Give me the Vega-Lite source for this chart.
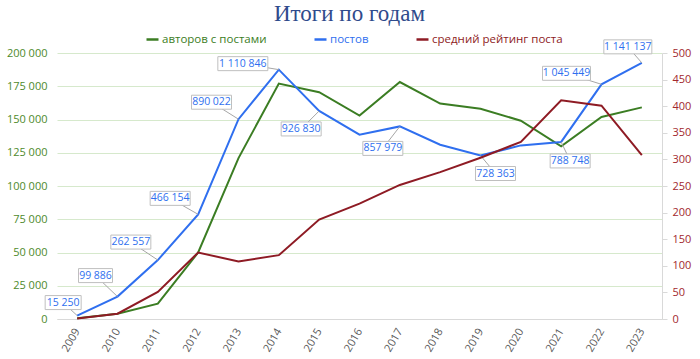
{
  "$schema": "https://vega.github.io/schema/vega-lite/v6.json",
  "width": 605,
  "height": 266,
  "autosize": {"type": "none"},
  "padding": {"left": 57, "top": 53, "right": 38, "bottom": 40},
  "config": {
    "font": "Open Sans",
    "view": {"stroke": null},
    "locale": {"number": {"decimal": ",", "thousands": " ", "grouping": [3], "currency": ["", ""]}}
  },
  "title": {
    "text": "Итоги по годам",
    "font": "Liberation Serif",
    "fontSize": 23,
    "fontWeight": "normal",
    "color": "#2F4B8C",
    "anchor": "middle",
    "dx": -10,
    "offset": 6
  },
  "data": {
    "values": [
      {"year": 2009, "authors": 500, "posts": 15250, "rating": 1},
      {"year": 2010, "authors": 4000, "posts": 99886, "rating": 10},
      {"year": 2011, "authors": 11500, "posts": 262557, "rating": 51},
      {"year": 2012, "authors": 50000, "posts": 466154, "rating": 125},
      {"year": 2013, "authors": 121000, "posts": 890022, "rating": 108},
      {"year": 2014, "authors": 177000, "posts": 1110846, "rating": 120},
      {"year": 2015, "authors": 170500, "posts": 926830, "rating": 187},
      {"year": 2016, "authors": 153000, "posts": 821000, "rating": 217},
      {"year": 2017, "authors": 178200, "posts": 857979, "rating": 252},
      {"year": 2018, "authors": 162000, "posts": 776500, "rating": 276},
      {"year": 2019, "authors": 158100, "posts": 728363, "rating": 303},
      {"year": 2020, "authors": 149100, "posts": 773400, "rating": 333},
      {"year": 2021, "authors": 129800, "posts": 788748, "rating": 411},
      {"year": 2022, "authors": 151900, "posts": 1045449, "rating": 401},
      {"year": 2023, "authors": 159100, "posts": 1141137, "rating": 308}
    ]
  },
  "encoding": {
    "x": {
      "field": "year",
      "type": "ordinal",
      "scale": {"type": "point", "padding": 0.5},
      "axis": {
        "title": null,
        "labelAngle": -60,
        "labelColor": "#595959",
        "labelFontSize": 11,
        "ticks": false,
        "domainColor": "#d9d9d9",
        "labelPadding": 10,
        "grid": false
      }
    }
  },
  "layer": [
    {
      "mark": {"type": "line", "strokeWidth": 2},
      "encoding": {
        "y": {
          "field": "authors",
          "type": "quantitative",
          "scale": {"domain": [0, 200000], "nice": false},
          "axis": {
            "title": null,
            "orient": "left",
            "values": [0, 25000, 50000, 75000, 100000, 125000, 150000, 175000, 200000],
            "format": ",.0f",
            "labelColor": "#4E8A2C",
            "labelFontSize": 11,
            "ticks": false,
            "domain": false,
            "labelPadding": 10,
            "gridColor": "#d6e9cc",
            "gridWidth": 1
          }
        },
        "color": {
          "datum": "авторов с постами",
          "scale": {
            "domain": ["авторов с постами", "постов", "средний рейтинг поста"],
            "range": ["#3B7D23", "#2F6FEF", "#8E1B24"]
          },
          "legend": {
            "orient": "none",
            "legendX": 88,
            "legendY": -21,
            "direction": "horizontal",
            "title": null,
            "symbolType": "stroke",
            "symbolSize": 144,
            "symbolStrokeWidth": 2.5,
            "labelFontSize": 11.5,
            "labelOffset": 2,
            "columnPadding": 42,
            "encode": {"labels": {"update": {"fill": {"scale": "color", "field": "value"}}}}
          }
        }
      }
    },
    {
      "encoding": {
        "y": {
          "field": "posts",
          "type": "quantitative",
          "scale": {"domain": [0, 1185000], "nice": false},
          "axis": null
        }
      },
      "layer": [
        {
          "mark": {"type": "line", "strokeWidth": 2},
          "encoding": {
            "color": {
              "datum": "постов",
              "scale": {
                "domain": ["авторов с постами", "постов", "средний рейтинг поста"],
                "range": ["#3B7D23", "#2F6FEF", "#8E1B24"]
              }
            }
          }
        },
        {
          "transform": [{"filter": "datum.year == 2009"}],
          "layer": [
            {"mark": {"type": "rule", "color": "#a6a6a6", "x2Offset": -14, "y2Offset": -13}, "encoding": {"x2": {"field": "year"}, "y2": {"field": "posts"}}},
            {"mark": {"type": "rect", "fill": "white", "stroke": "#bfbfbf", "xOffset": -32, "x2Offset": 4, "yOffset": -20, "y2Offset": -6}, "encoding": {"x2": {"field": "year"}, "y2": {"field": "posts"}}},
            {"mark": {"type": "text", "dx": -14, "dy": -13, "color": "#2F6FEF", "fontSize": 10.5, "align": "center", "baseline": "middle"}, "encoding": {"text": {"field": "posts", "type": "quantitative", "format": ",.0f"}}}
          ]
        },
        {
          "transform": [{"filter": "datum.year == 2010"}],
          "layer": [
            {"mark": {"type": "rule", "color": "#a6a6a6", "x2Offset": -22, "y2Offset": -21}, "encoding": {"x2": {"field": "year"}, "y2": {"field": "posts"}}},
            {"mark": {"type": "rect", "fill": "white", "stroke": "#bfbfbf", "xOffset": -39, "x2Offset": -5, "yOffset": -28, "y2Offset": -14}, "encoding": {"x2": {"field": "year"}, "y2": {"field": "posts"}}},
            {"mark": {"type": "text", "dx": -22, "dy": -21, "color": "#2F6FEF", "fontSize": 10.5, "align": "center", "baseline": "middle"}, "encoding": {"text": {"field": "posts", "type": "quantitative", "format": ",.0f"}}}
          ]
        },
        {
          "transform": [{"filter": "datum.year == 2011"}],
          "layer": [
            {"mark": {"type": "rule", "color": "#a6a6a6", "x2Offset": -27, "y2Offset": -18}, "encoding": {"x2": {"field": "year"}, "y2": {"field": "posts"}}},
            {"mark": {"type": "rect", "fill": "white", "stroke": "#bfbfbf", "xOffset": -47, "x2Offset": -7, "yOffset": -25, "y2Offset": -11}, "encoding": {"x2": {"field": "year"}, "y2": {"field": "posts"}}},
            {"mark": {"type": "text", "dx": -27, "dy": -18, "color": "#2F6FEF", "fontSize": 10.5, "align": "center", "baseline": "middle"}, "encoding": {"text": {"field": "posts", "type": "quantitative", "format": ",.0f"}}}
          ]
        },
        {
          "transform": [{"filter": "datum.year == 2012"}],
          "layer": [
            {"mark": {"type": "rule", "color": "#a6a6a6", "x2Offset": -28, "y2Offset": -16}, "encoding": {"x2": {"field": "year"}, "y2": {"field": "posts"}}},
            {"mark": {"type": "rect", "fill": "white", "stroke": "#bfbfbf", "xOffset": -48, "x2Offset": -8, "yOffset": -23, "y2Offset": -9}, "encoding": {"x2": {"field": "year"}, "y2": {"field": "posts"}}},
            {"mark": {"type": "text", "dx": -28, "dy": -16, "color": "#2F6FEF", "fontSize": 10.5, "align": "center", "baseline": "middle"}, "encoding": {"text": {"field": "posts", "type": "quantitative", "format": ",.0f"}}}
          ]
        },
        {
          "transform": [{"filter": "datum.year == 2013"}],
          "layer": [
            {"mark": {"type": "rule", "color": "#a6a6a6", "x2Offset": -27, "y2Offset": -17}, "encoding": {"x2": {"field": "year"}, "y2": {"field": "posts"}}},
            {"mark": {"type": "rect", "fill": "white", "stroke": "#bfbfbf", "xOffset": -47, "x2Offset": -7, "yOffset": -24, "y2Offset": -10}, "encoding": {"x2": {"field": "year"}, "y2": {"field": "posts"}}},
            {"mark": {"type": "text", "dx": -27, "dy": -17, "color": "#2F6FEF", "fontSize": 10.5, "align": "center", "baseline": "middle"}, "encoding": {"text": {"field": "posts", "type": "quantitative", "format": ",.0f"}}}
          ]
        },
        {
          "transform": [{"filter": "datum.year == 2014"}],
          "layer": [
            {"mark": {"type": "rule", "color": "#a6a6a6", "x2Offset": -36, "y2Offset": -6}, "encoding": {"x2": {"field": "year"}, "y2": {"field": "posts"}}},
            {"mark": {"type": "rect", "fill": "white", "stroke": "#bfbfbf", "xOffset": -61, "x2Offset": -11, "yOffset": -13, "y2Offset": 1}, "encoding": {"x2": {"field": "year"}, "y2": {"field": "posts"}}},
            {"mark": {"type": "text", "dx": -36, "dy": -6, "color": "#2F6FEF", "fontSize": 10.5, "align": "center", "baseline": "middle"}, "encoding": {"text": {"field": "posts", "type": "quantitative", "format": ",.0f"}}}
          ]
        },
        {
          "transform": [{"filter": "datum.year == 2015"}],
          "layer": [
            {"mark": {"type": "rule", "color": "#a6a6a6", "x2Offset": -18, "y2Offset": 18}, "encoding": {"x2": {"field": "year"}, "y2": {"field": "posts"}}},
            {"mark": {"type": "rect", "fill": "white", "stroke": "#bfbfbf", "xOffset": -38, "x2Offset": 2, "yOffset": 11, "y2Offset": 25}, "encoding": {"x2": {"field": "year"}, "y2": {"field": "posts"}}},
            {"mark": {"type": "text", "dx": -18, "dy": 18, "color": "#2F6FEF", "fontSize": 10.5, "align": "center", "baseline": "middle"}, "encoding": {"text": {"field": "posts", "type": "quantitative", "format": ",.0f"}}}
          ]
        },
        {
          "transform": [{"filter": "datum.year == 2017"}],
          "layer": [
            {"mark": {"type": "rule", "color": "#a6a6a6", "x2Offset": -17, "y2Offset": 22}, "encoding": {"x2": {"field": "year"}, "y2": {"field": "posts"}}},
            {"mark": {"type": "rect", "fill": "white", "stroke": "#bfbfbf", "xOffset": -37, "x2Offset": 3, "yOffset": 15, "y2Offset": 29}, "encoding": {"x2": {"field": "year"}, "y2": {"field": "posts"}}},
            {"mark": {"type": "text", "dx": -17, "dy": 22, "color": "#2F6FEF", "fontSize": 10.5, "align": "center", "baseline": "middle"}, "encoding": {"text": {"field": "posts", "type": "quantitative", "format": ",.0f"}}}
          ]
        },
        {
          "transform": [{"filter": "datum.year == 2019"}],
          "layer": [
            {"mark": {"type": "rule", "color": "#a6a6a6", "x2Offset": 15, "y2Offset": 18}, "encoding": {"x2": {"field": "year"}, "y2": {"field": "posts"}}},
            {"mark": {"type": "rect", "fill": "white", "stroke": "#bfbfbf", "xOffset": -5, "x2Offset": 35, "yOffset": 11, "y2Offset": 25}, "encoding": {"x2": {"field": "year"}, "y2": {"field": "posts"}}},
            {"mark": {"type": "text", "dx": 15, "dy": 18, "color": "#2F6FEF", "fontSize": 10.5, "align": "center", "baseline": "middle"}, "encoding": {"text": {"field": "posts", "type": "quantitative", "format": ",.0f"}}}
          ]
        },
        {
          "transform": [{"filter": "datum.year == 2021"}],
          "layer": [
            {"mark": {"type": "rule", "color": "#a6a6a6", "x2Offset": 9, "y2Offset": 19}, "encoding": {"x2": {"field": "year"}, "y2": {"field": "posts"}}},
            {"mark": {"type": "rect", "fill": "white", "stroke": "#bfbfbf", "xOffset": -11, "x2Offset": 29, "yOffset": 12, "y2Offset": 26}, "encoding": {"x2": {"field": "year"}, "y2": {"field": "posts"}}},
            {"mark": {"type": "text", "dx": 9, "dy": 19, "color": "#2F6FEF", "fontSize": 10.5, "align": "center", "baseline": "middle"}, "encoding": {"text": {"field": "posts", "type": "quantitative", "format": ",.0f"}}}
          ]
        },
        {
          "transform": [{"filter": "datum.year == 2022"}],
          "layer": [
            {"mark": {"type": "rule", "color": "#a6a6a6", "x2Offset": -35, "y2Offset": -11}, "encoding": {"x2": {"field": "year"}, "y2": {"field": "posts"}}},
            {"mark": {"type": "rect", "fill": "white", "stroke": "#bfbfbf", "xOffset": -59, "x2Offset": -11, "yOffset": -18, "y2Offset": -4}, "encoding": {"x2": {"field": "year"}, "y2": {"field": "posts"}}},
            {"mark": {"type": "text", "dx": -35, "dy": -11, "color": "#2F6FEF", "fontSize": 10.5, "align": "center", "baseline": "middle"}, "encoding": {"text": {"field": "posts", "type": "quantitative", "format": ",.0f"}}}
          ]
        },
        {
          "transform": [{"filter": "datum.year == 2023"}],
          "layer": [
            {"mark": {"type": "rule", "color": "#a6a6a6", "x2Offset": -14, "y2Offset": -16}, "encoding": {"x2": {"field": "year"}, "y2": {"field": "posts"}}},
            {"mark": {"type": "rect", "fill": "white", "stroke": "#bfbfbf", "xOffset": -38, "x2Offset": 10, "yOffset": -23, "y2Offset": -9}, "encoding": {"x2": {"field": "year"}, "y2": {"field": "posts"}}},
            {"mark": {"type": "text", "dx": -14, "dy": -16, "color": "#2F6FEF", "fontSize": 10.5, "align": "center", "baseline": "middle"}, "encoding": {"text": {"field": "posts", "type": "quantitative", "format": ",.0f"}}}
          ]
        }
      ]
    },
    {
      "mark": {"type": "line", "strokeWidth": 2},
      "encoding": {
        "y": {
          "field": "rating",
          "type": "quantitative",
          "scale": {"domain": [0, 500], "nice": false},
          "axis": {
            "title": null,
            "orient": "right",
            "values": [0, 50, 100, 150, 200, 250, 300, 350, 400, 450, 500],
            "labelColor": "#A2282E",
            "labelFontSize": 11,
            "tickSize": 5,
            "tickColor": "#d9d9d9",
            "domainColor": "#d9d9d9",
            "labelPadding": 5,
            "gridColor": "#f4d3da",
            "gridWidth": 1
          }
        },
        "color": {
          "datum": "средний рейтинг поста",
          "scale": {
            "domain": ["авторов с постами", "постов", "средний рейтинг поста"],
            "range": ["#3B7D23", "#2F6FEF", "#8E1B24"]
          }
        }
      }
    }
  ],
  "resolve": {"scale": {"y": "independent"}, "axis": {"y": "independent"}}
}
